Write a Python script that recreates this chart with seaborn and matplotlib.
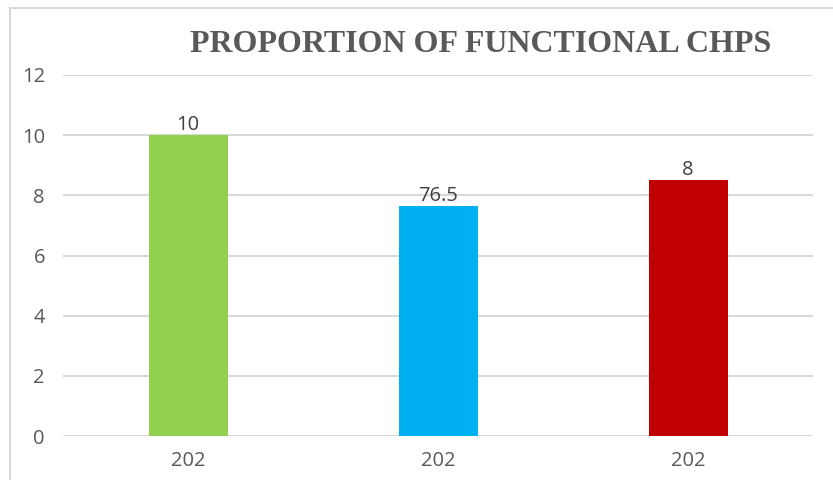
import matplotlib
matplotlib.use("Agg")
import matplotlib.pyplot as plt
import seaborn as sns
import pandas as pd
from matplotlib.patches import Rectangle

# ------------------------------------------------------------------
# Data
# ------------------------------------------------------------------
bar_ids = ["a", "b", "c"]
tick_labels = ["202", "202", "202"]
values = [10.0, 7.65, 8.5]
value_labels = ["10", "76.5", "8"]
bar_colors = ["#92d050", "#00b0f0", "#c00000"]

df = pd.DataFrame({"id": bar_ids, "value": values})

sns.set_theme(style="white")
plt.rcParams["font.family"] = ["Open Sans", "DejaVu Sans"]

text_color = "#595959"
grid_color = "#d9d9d9"

fig = plt.figure(figsize=(8.33, 4.8), dpi=100)
ax = fig.add_axes([63 / 833, 1 - 436 / 480, 750 / 833, 361 / 480])

sns.barplot(data=df, x="id", y="value", hue="id", palette=bar_colors,
            legend=False, width=0.316, saturation=1, linewidth=0, ax=ax)

ax.set_ylim(0, 12)
ax.set_yticks(range(0, 13, 2))
ax.set_xlim(-0.5, 2.5)
ax.set_xticks(range(len(tick_labels)))
ax.set_xticklabels(tick_labels)
ax.set_xlabel("")
ax.set_ylabel("")

ax.yaxis.grid(True, color=grid_color, linewidth=1.5)
ax.set_axisbelow(True)
for s in ax.spines.values():
    s.set_visible(False)

ax.tick_params(axis="y", length=0, pad=13, labelsize=14.5, labelcolor=text_color)
ax.tick_params(axis="x", length=0, pad=11, labelsize=14.5, labelcolor=text_color)

for cont, lab in zip(ax.containers, value_labels):
    ax.bar_label(cont, labels=[lab], padding=0, fontsize=14.5, color="#404040")

fig.text(481 / 833, 1 - 45 / 480, "PROPORTION OF FUNCTIONAL CHPS",
         ha="center", va="center", fontsize=23, fontweight="bold",
         color=text_color, family=["Liberation Serif", "DejaVu Serif"])

# chart-area border
fig.patches.append(Rectangle((10 / 833, -0.1), 1.2, 1.1 - 8 / 480,
                             transform=fig.transFigure, fill=False,
                             edgecolor="#d9d9d9", linewidth=1.5))

fig.savefig("out.png", dpi=100)
